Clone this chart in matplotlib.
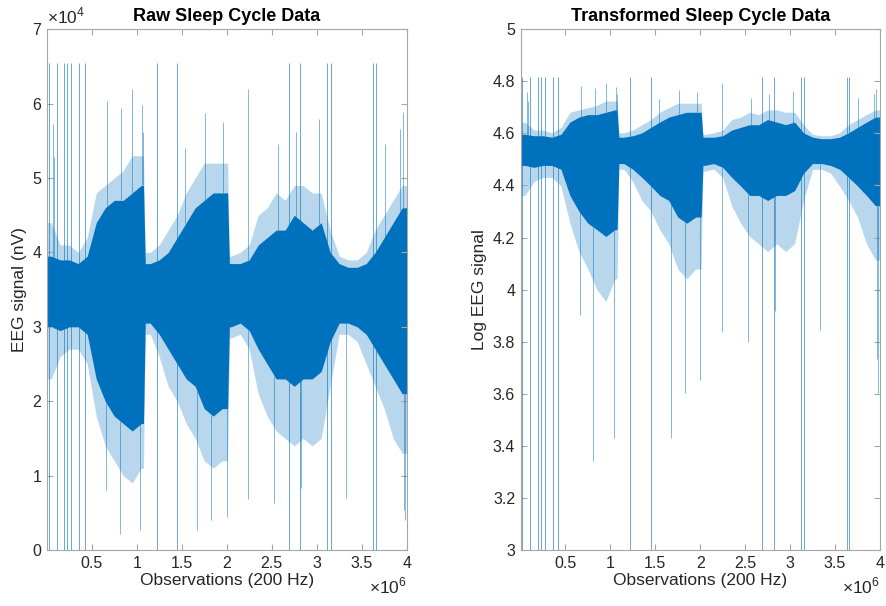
import numpy as np
import matplotlib
matplotlib.use('Agg')
from matplotlib import pyplot as plt

plt.rcParams['font.family'] = ['Liberation Sans', 'DejaVu Sans']
plt.rcParams['mathtext.fontset'] = 'custom'
plt.rcParams['mathtext.rm'] = 'Liberation Sans'

# sample positions along the recording (x 1e6 observations)
obs_x = [0.05, 0.15, 0.25, 0.35, 0.45, 0.55, 0.65, 0.75, 0.85, 0.95,
         1.05, 1.075, 1.095, 1.15, 1.25, 1.35, 1.45, 1.55, 1.65, 1.75,
         1.85, 1.95, 2.01, 2.03, 2.05, 2.15, 2.25, 2.35, 2.45, 2.55,
         2.65, 2.75, 2.85, 2.95, 3.05, 3.15, 3.25, 3.35, 3.45, 3.55,
         3.65, 3.75, 3.85, 3.95]

# raw EEG envelope at those positions (x 1e4 nV)
core_hi = [3.95, 3.90, 3.90, 3.85, 3.95, 4.40, 4.60, 4.70, 4.70, 4.80,
           4.90, 4.90, 3.85, 3.85, 3.90, 4.00, 4.20, 4.40, 4.60, 4.70,
           4.80, 4.80, 4.80, 3.85, 3.85, 3.85, 3.90, 4.10, 4.20, 4.30,
           4.30, 4.50, 4.40, 4.30, 4.40, 4.00, 3.85, 3.80, 3.80, 3.85,
           4.00, 4.20, 4.40, 4.60]
core_lo = [3.00, 2.95, 3.00, 3.00, 2.90, 2.30, 2.00, 1.80, 1.70, 1.60,
           1.70, 1.70, 3.05, 3.05, 2.90, 2.70, 2.50, 2.30, 2.20, 1.90,
           1.80, 1.90, 1.90, 3.00, 3.00, 3.05, 2.95, 2.70, 2.50, 2.30,
           2.30, 2.20, 2.30, 2.30, 2.40, 2.80, 3.05, 3.05, 3.00, 2.90,
           2.70, 2.50, 2.30, 2.10]
fringe_hi = [4.40, 4.10, 4.10, 4.00, 4.20, 4.80, 4.90, 5.00, 5.10, 5.30,
             5.30, 5.30, 4.00, 4.00, 4.10, 4.30, 4.50, 4.80, 5.00, 5.20,
             5.20, 5.20, 5.20, 3.95, 3.95, 4.00, 4.10, 4.50, 4.60, 4.80,
             4.70, 4.90, 4.90, 4.80, 4.80, 4.30, 3.95, 3.90, 3.90, 4.00,
             4.30, 4.50, 4.70, 4.90]
fringe_lo = [2.30, 2.60, 2.70, 2.70, 2.50, 1.80, 1.40, 1.20, 1.00, 0.90,
             1.10, 1.10, 2.90, 2.90, 2.60, 2.20, 2.00, 1.70, 1.50, 1.20,
             1.10, 1.20, 1.20, 2.85, 2.85, 2.90, 2.70, 2.10, 1.80, 1.60,
             1.50, 1.40, 1.50, 1.40, 1.50, 2.20, 2.90, 2.90, 2.80, 2.50,
             2.20, 1.90, 1.50, 1.30]

# saturated artefacts running the full range 0 .. 6.55e4
spike_x = [0.02, 0.11, 0.19, 0.23, 0.27, 0.36, 0.42, 1.22, 1.45,
           2.69, 2.82, 3.12, 3.16, 3.63, 3.66]
spike_top = 6.55

# single large excursions
up_x = [0.07, 0.08, 0.67, 0.83, 0.95, 1.06, 1.07, 1.54, 1.76, 1.96,
        2.24, 2.57, 2.77, 3.03, 3.76, 3.93, 3.96]
up_val = [5.73, 5.28, 6.03, 5.94, 6.20, 5.98, 5.62, 5.40, 5.87, 5.76,
          6.20, 5.46, 5.62, 5.80, 5.46, 5.66, 5.89]
down_x = [0.66, 0.81, 1.04, 1.67, 1.83, 2.00, 2.24, 2.53, 2.83, 3.33,
          3.97, 3.98]
down_val = [0.80, 0.22, 0.27, 0.27, 0.40, 0.45, 0.69, 0.63, 0.83, 0.70,
            0.54, 0.40]

blue = '#0072BD'
axis_grey = '#a6a6a6'
text_col = '#262626'


def to_log(v):
    return np.log10(np.maximum(np.asarray(v, dtype=float) * 1e4, 1.0))


def to_raw(v):
    return np.asarray(v, dtype=float)


def padded(vals):
    # hold first/last value out to the axis ends
    return np.r_[vals[0], vals, vals[-1]]


def draw_signal(ax, tf, bottom):
    xs = np.r_[0.0, obs_x, 4.0]
    ax.fill_between(xs, padded(tf(fringe_lo)), padded(tf(fringe_hi)),
                    color=blue, alpha=0.28, lw=0)
    ax.fill_between(xs, padded(tf(core_lo)), padded(tf(core_hi)),
                    color=blue, lw=0)
    hi_at_up = np.interp(up_x, obs_x, tf(core_hi))
    lo_at_down = np.interp(down_x, obs_x, tf(core_lo))
    ax.vlines(up_x, hi_at_up, tf(up_val), color=blue, lw=0.7, alpha=0.5)
    ax.vlines(down_x, tf(down_val), lo_at_down, color=blue, lw=0.7,
              alpha=0.5)
    ax.vlines(spike_x, bottom, tf([spike_top] * len(spike_x)),
              color=blue, lw=0.7, alpha=0.6)


def style_axis(ax):
    for s in ax.spines.values():
        s.set_color(axis_grey)
        s.set_linewidth(0.8)
    ax.tick_params(direction='in', top=True, right=True, length=4,
                   color=axis_grey, labelcolor=text_col, labelsize=11.5,
                   pad=4)
    ax.set_xlim(0.0025, 4.0)
    ax.set_xticks([0.5, 1, 1.5, 2, 2.5, 3, 3.5, 4])
    ax.set_xticklabels(['0.5', '1', '1.5', '2', '2.5', '3', '3.5', '4'])
    ax.set_xlabel('Observations (200 Hz)', fontsize=12.5, color=text_col,
                  labelpad=2)
    ax.text(1.0, -0.05, r'$\times10^{6}$', transform=ax.transAxes,
            ha='right', va='top', fontsize=12.5, color=text_col)


fig = plt.figure(figsize=(8.86, 6.06), dpi=100)
ax1 = fig.add_axes([0.053, 0.0924, 0.406, 0.8593])
ax2 = fig.add_axes([0.5877, 0.0924, 0.4055, 0.8593])

draw_signal(ax1, to_raw, 0.0)
style_axis(ax1)
ax1.set_ylim(0, 7)
ax1.set_yticks(range(8))
ax1.set_ylabel('EEG signal (nV)', fontsize=12.5, color=text_col, labelpad=4)
ax1.set_title('Raw Sleep Cycle Data', fontsize=13, fontweight='bold',
              color='black', pad=6)
ax1.text(0.0, 1.005, r'$\times10^{4}$', transform=ax1.transAxes,
         ha='left', va='bottom', fontsize=12.5, color=text_col)

draw_signal(ax2, to_log, 3.0)
style_axis(ax2)
ax2.set_ylim(3, 5)
ax2.set_yticks(np.arange(3, 5.01, 0.2))
ax2.set_yticklabels(['3', '3.2', '3.4', '3.6', '3.8', '4', '4.2', '4.4',
                     '4.6', '4.8', '5'])
ax2.set_ylabel('Log EEG signal', fontsize=12.5, color=text_col, labelpad=4)
ax2.set_title('Transformed Sleep Cycle Data', fontsize=13,
              fontweight='bold', color='black', pad=6)

fig.savefig('out.png', dpi=100)
